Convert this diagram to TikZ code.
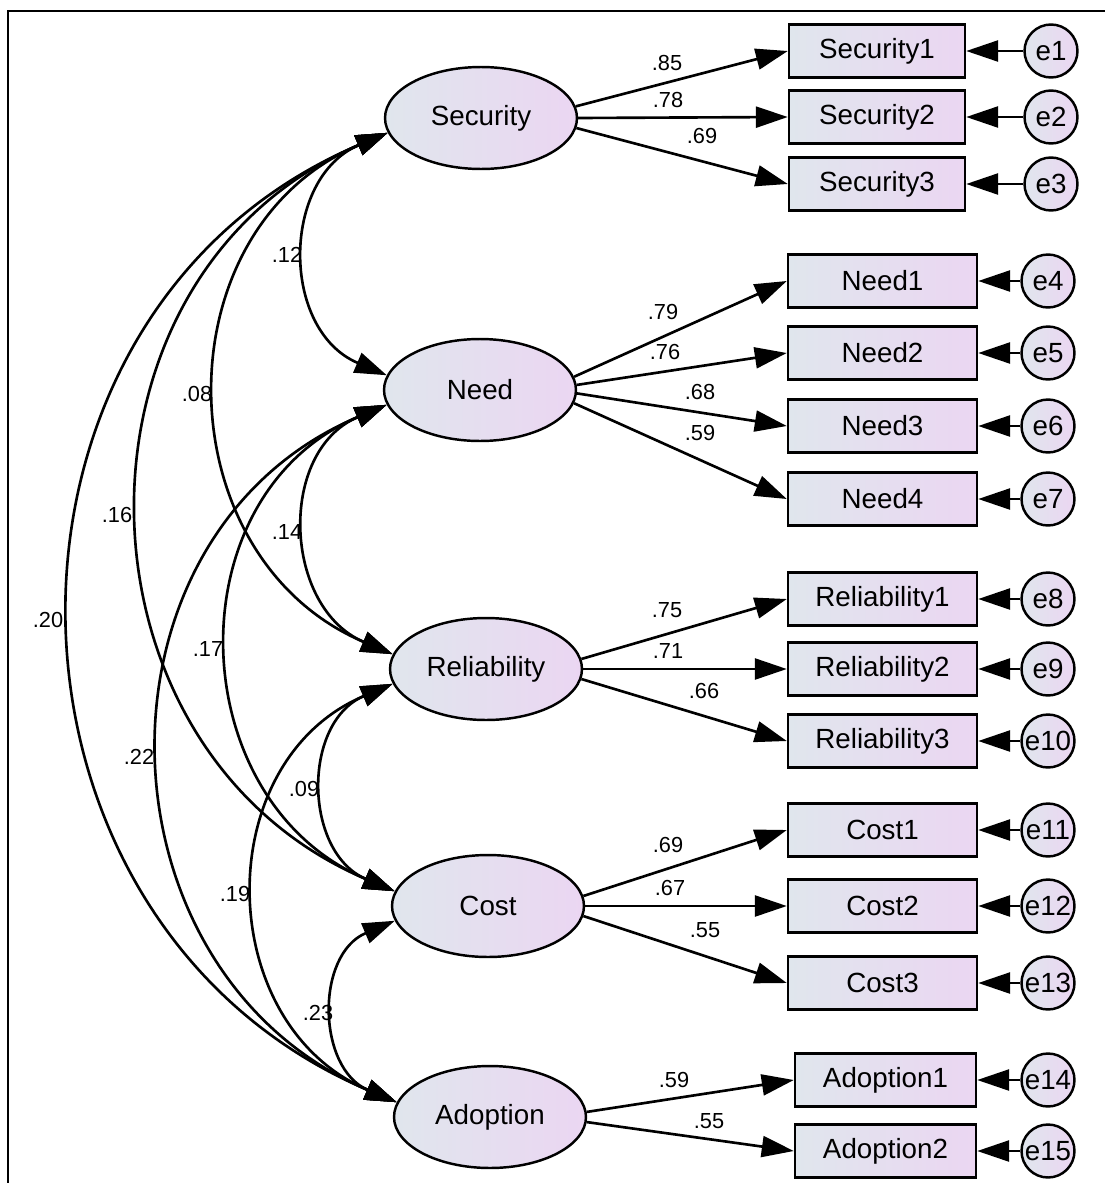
\documentclass[tikz,border=0pt]{standalone}
\usepackage{fontspec}
\setmainfont{Liberation Sans}
\usetikzlibrary{shapes.geometric,arrows.meta}
\definecolor{shL}{RGB}{224,230,237}
\definecolor{shR}{RGB}{235,214,242}
\begin{document}
\begin{tikzpicture}[x=0.02cm,y=0.02cm,
  every node/.style={inner sep=0pt},
  lat/.style={ellipse,draw,line width=1.4pt,left color=shL,right color=shR,minimum width=3.84cm,minimum height=2.04cm,font=\fontsize{15.8}{18}\selectfont},
  obs/.style={rectangle,draw,line width=1.4pt,left color=shL,right color=shR,minimum height=1.06cm,font=\fontsize{15.8}{18}\selectfont},
  err/.style={circle,draw,line width=1.4pt,left color=shL,right color=shR,minimum size=1.06cm,font=\fontsize{15.8}{18}\selectfont},
  lbl/.style={font=\fontsize{12.4}{14}\selectfont},
  conn/.style={line width=1.5pt,-{Triangle[length=0.64cm,width=0.42cm]}},
  cov/.style={line width=1.5pt,{Triangle[length=0.64cm,width=0.42cm]}-{Triangle[length=0.64cm,width=0.42cm]}},
  covarc/.style={out=203,in=157,looseness=1.22},
]
\useasboundingbox (0,0) rectangle (1105,-1183);
\fill[white] (0,0) rectangle (1105,-1183);
\draw[line width=0.8pt] (8,-1183) -- (8,-11) -- (1105,-11);

% latent variables
\node[lat] (sec)  at (481,-118)  {Security};
\node[lat] (need) at (480,-390)  {Need};
\node[lat] (rel)  at (486,-669)  {Reliability};
\node[lat] (cost) at (488,-906)  {Cost};
\node[lat] (ado)  at (490,-1117) {Adoption};

% observed variables
\node[obs,minimum width=3.52cm] (s1) at (877,-51)  {Security1};
\node[obs,minimum width=3.52cm] (s2) at (877,-117) {Security2};
\node[obs,minimum width=3.52cm] (s3) at (877,-184) {Security3};
\node[obs,minimum width=3.78cm] (n1) at (882.5,-281) {Need1};
\node[obs,minimum width=3.78cm] (n2) at (882.5,-353) {Need2};
\node[obs,minimum width=3.78cm] (n3) at (882.5,-426) {Need3};
\node[obs,minimum width=3.78cm] (n4) at (882.5,-499) {Need4};
\node[obs,minimum width=3.78cm] (r1) at (882.5,-599) {Reliability1};
\node[obs,minimum width=3.78cm] (r2) at (882.5,-669) {Reliability2};
\node[obs,minimum width=3.78cm] (r3) at (882.5,-741) {Reliability3};
\node[obs,minimum width=3.78cm] (c1) at (882.5,-830) {Cost1};
\node[obs,minimum width=3.78cm] (c2) at (882.5,-906) {Cost2};
\node[obs,minimum width=3.78cm] (c3) at (882.5,-983) {Cost3};
\node[obs,minimum width=3.62cm] (a1) at (885.5,-1080) {Adoption1};
\node[obs,minimum width=3.62cm] (a2) at (885.5,-1151) {Adoption2};

% error terms
\node[err] (e1)  at (1051,-51)  {e1};
\node[err] (e2)  at (1051,-117) {e2};
\node[err] (e3)  at (1051,-184) {e3};
\node[err] (e4)  at (1048,-281) {e4};
\node[err] (e5)  at (1048,-353) {e5};
\node[err] (e6)  at (1048,-426) {e6};
\node[err] (e7)  at (1048,-499) {e7};
\node[err] (e8)  at (1048,-599) {e8};
\node[err] (e9)  at (1048,-669) {e9};
\node[err] (e10) at (1048,-741) {e10};
\node[err] (e11) at (1048,-830) {e11};
\node[err] (e12) at (1048,-906) {e12};
\node[err] (e13) at (1048,-983) {e13};
\node[err] (e14) at (1048,-1080) {e14};
\node[err] (e15) at (1048,-1151) {e15};

% error arrows
\foreach \e/\o in {e1/s1,e2/s2,e3/s3,e4/n1,e5/n2,e6/n3,e7/n4,e8/r1,e9/r2,e10/r3,e11/c1,e12/c2,e13/c3,e14/a1,e15/a2}
  \draw[conn] (\e) -- (\o);

% loadings
\draw[conn] (sec.7)   -- (s1.west);
\draw[conn] (sec.0)   -- (s2.west);
\draw[conn] (sec.-6)  -- (s3.west);
\draw[conn] (need.8)  -- (n1.west);
\draw[conn] (need.3)  -- (n2.west);
\draw[conn] (need.-2) -- (n3.west);
\draw[conn] (need.-8) -- (n4.west);
\draw[conn] (rel.6)   -- (r1.west);
\draw[conn] (rel.0)   -- (r2.west);
\draw[conn] (rel.-6)  -- (r3.west);
\draw[conn] (cost.6)  -- (c1.west);
\draw[conn] (cost.0)  -- (c2.west);
\draw[conn] (cost.-6) -- (c3.west);
\draw[conn] (ado.3)   -- (a1.west);
\draw[conn] (ado.-3)  -- (a2.west);

% loading labels
\node[lbl] (l1)  at (667,-63)  {.85};
\node[lbl] (l2)  at (668,-100) {.78};
\node[lbl] (l3)  at (702,-136) {.69};
\node[lbl] (l4)  at (663,-312) {.79};
\node[lbl] (l5)  at (665,-352) {.76};
\node[lbl] (l6)  at (700,-392) {.68};
\node[lbl] (l7)  at (700,-433) {.59};
\node[lbl] (l8)  at (667,-610) {.75};
\node[lbl] (l9)  at (668,-651) {.71};
\node[lbl] (l10) at (704,-691) {.66};
\node[lbl] (l11) at (668,-845) {.69};
\node[lbl] (l12) at (670,-888) {.67};
\node[lbl] (l13) at (705,-930) {.55};
\node[lbl] (l14) at (674,-1080) {.59};
\node[lbl] (l15) at (709,-1121) {.55};

% covariances
\draw[cov] (sec.189)  to[covarc] (need.171);
\draw[cov] (sec.189)  to[covarc] (rel.171);
\draw[cov] (sec.189)  to[covarc] (cost.171);
\draw[cov] (sec.189)  to[covarc] (ado.171);
\draw[cov] (need.189) to[covarc] (rel.171);
\draw[cov] (need.189) to[covarc] (cost.171);
\draw[cov] (need.189) to[covarc] (ado.171);
\draw[cov] (rel.189)  to[covarc] (cost.171);
\draw[cov] (rel.189)  to[covarc] (ado.171);
\draw[cov] (cost.189) to[covarc] (ado.171);

% covariance labels
\node[lbl] (k1)  at (287,-255) {.12};
\node[lbl] (k2)  at (197,-394) {.08};
\node[lbl] (k3)  at (117,-515) {.16};
\node[lbl] (k4)  at (48,-620)  {.20};
\node[lbl] (k5)  at (287,-532) {.14};
\node[lbl] (k6)  at (208,-649) {.17};
\node[lbl] (k7)  at (139,-757) {.22};
\node[lbl] (k8)  at (304,-789) {.09};
\node[lbl] (k9)  at (235,-894) {.19};
\node[lbl] (k10) at (318,-1013) {.23};
\end{tikzpicture}
\end{document}
